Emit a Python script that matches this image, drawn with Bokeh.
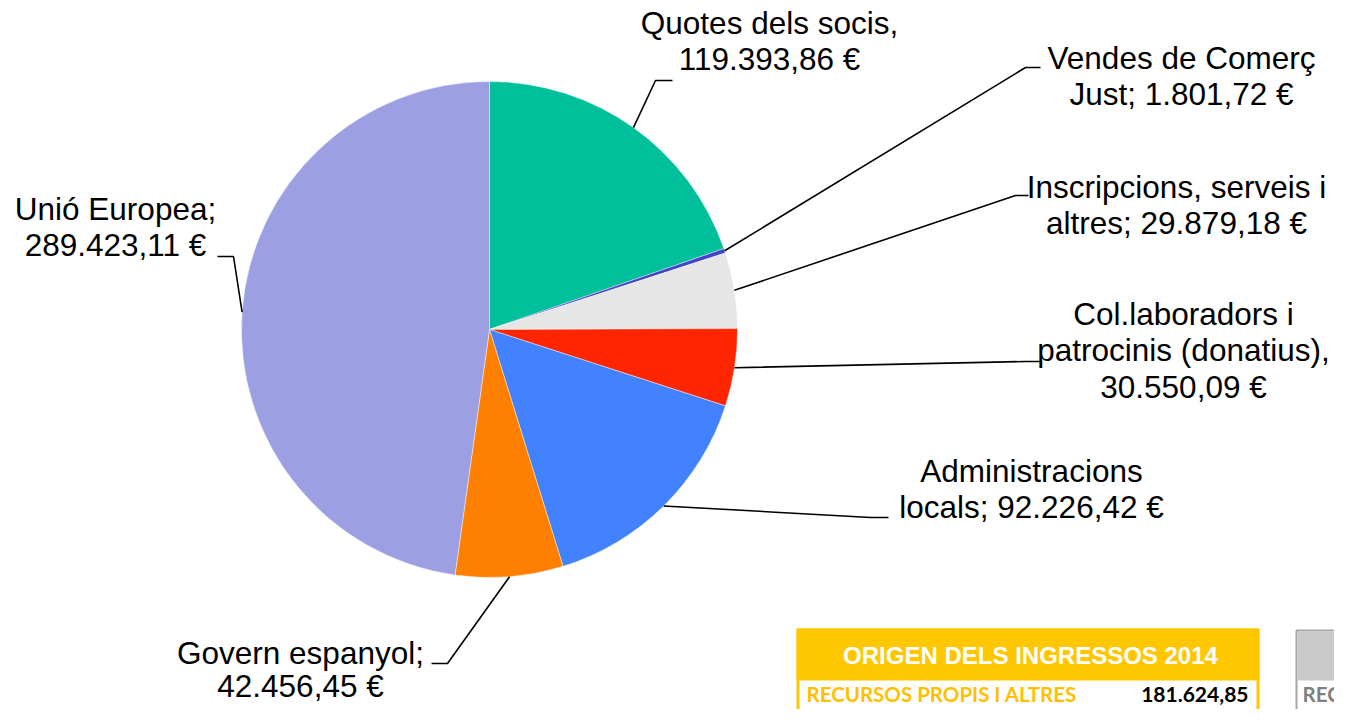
import math
from bokeh.plotting import figure
from bokeh.models import Range1d
from bokeh.core.properties import value
from bokeh.embed import file_html
from bokeh.resources import INLINE

# ---- data ----
categories = ["Quotes dels socis", "Vendes de Comerç Just", "Inscripcions, serveis i altres",
              "Col.laboradors i patrocinis (donatius)", "Administracions locals",
              "Govern espanyol", "Unió Europea"]
amounts = [119393.86, 1801.72, 29879.18, 30550.09, 92226.42, 42456.45, 289423.11]
colors = ["#00BF9B", "#4343C8", "#E6E6E6", "#FF2500", "#4282FF", "#FF8000", "#9C9FE1"]
label_lines = [
    ["Quotes dels socis,", "119.393,86 €"],
    ["Vendes de Comerç", "Just; 1.801,72 €"],
    ["Inscripcions, serveis i", "altres; 29.879,18 €"],
    ["Col.laboradors i", "patrocinis (donatius),", "30.550,09 €"],
    ["Administracions", "locals; 92.226,42 €"],
    ["Govern espanyol;", "42.456,45 €"],
    ["Unió Europea;", "289.423,11 €"],
]
table_title = "ORIGEN DELS INGRESSOS 2014"
table_row_label = "RECURSOS PROPIS I ALTRES"
table_row_value = "181.624,85"

# ---- layout (pixel coords from top-left, y down -> plotted as -y) ----
W, H = 1334, 709
cx, cy, R = 489, 329, 248
label_pos = [(769, 22), (1181, 57), (1176, 186), (1183, 313), (1031, 470), (300, 652), (115, 208)]
pitches = [36.5, 36.5, 36.5, 36.5, 36.5, 33, 36.5]
elbows = [(655, 80, 672), (1025, 67, 1040), (1015, 195, 1028), (1025, 361, 1040),
          (870, 517, 888), (447, 663, 431), (233, 256, 217)]

p = figure(width=W, height=H, output_backend="svg", toolbar_location=None,
           x_range=Range1d(0, W), y_range=Range1d(-H, 0),
           min_border=0, outline_line_color=None)
p.axis.visible = False
p.grid.visible = False
p.background_fill_color = "white"

total = sum(amounts)
starts, ends, mids = [], [], []
cum = 0.0
for a in amounts:
    s = math.pi / 2 - 2 * math.pi * cum / total
    cum += a
    e = math.pi / 2 - 2 * math.pi * cum / total
    starts.append(s); ends.append(e); mids.append((s + e) / 2)

p.wedge(x=[cx] * len(amounts), y=[-cy] * len(amounts), radius=R,
        start_angle=starts, end_angle=ends, direction="clock",
        fill_color=colors, line_color="white", line_width=0.6, line_alpha=0.7)

# leader lines
xs, ys = [], []
for m, (kx, ky, ex) in zip(mids, elbows):
    ax = cx + R * math.cos(m)
    ay = cy - R * math.sin(m)
    xs.append([ax, kx, ex])
    ys.append([-ay, -ky, -ky])
p.multi_line(xs=xs, ys=ys, line_color="black", line_width=1.6)

# labels
tx, ty, tt = [], [], []
for lines, (lx, ly), pt in zip(label_lines, label_pos, pitches):
    for i, t in enumerate(lines):
        tx.append(lx); ty.append(-(ly + i * pt)); tt.append(t)
p.text(x=tx, y=ty, text=tt, text_align="center", text_baseline="middle",
       text_font=value("Liberation Sans"), text_font_size="31.5px", text_color="black")

# ---- summary table (yellow) ----
yellow = "#FFC700"
p.quad(left=[797.5], right=[1257.5], top=[-629.5], bottom=[-740], fill_color="white",
       line_color=yellow, line_width=3)
p.quad(left=[796], right=[1259], top=[-628], bottom=[-680], fill_color=yellow, line_color=None)
p.text(x=[1030], y=[-655], text=[table_title], text_align="center", text_baseline="middle",
       text_font=value("Liberation Sans"), text_font_style="bold", text_font_size="24px",
       text_color="white")
p.text(x=[806], y=[-693], text=[table_row_label], text_align="left", text_baseline="middle",
       text_font=value("Lato"), text_font_style="bold", text_font_size="20.5px", text_color="#FFC000")
p.text(x=[1248], y=[-694], text=[table_row_value], text_align="right", text_baseline="middle",
       text_font=value("Lato"), text_font_style="bold", text_font_size="21px", text_color="black")

# ---- second table (grey, cut at right edge) ----
p.quad(left=[1296], right=[1420], top=[-630], bottom=[-740], fill_color="white",
       line_color="#A6A6A6", line_width=2)
p.quad(left=[1297], right=[1420], top=[-631], bottom=[-680], fill_color="#C9C9C9", line_color=None)
p.text(x=[1302], y=[-693], text=["RECU"], text_align="left", text_baseline="middle",
       text_font=value("Lato"), text_font_style="bold", text_font_size="20.5px", text_color="#808080")

open("out.html", "w").write(file_html(p, INLINE))
